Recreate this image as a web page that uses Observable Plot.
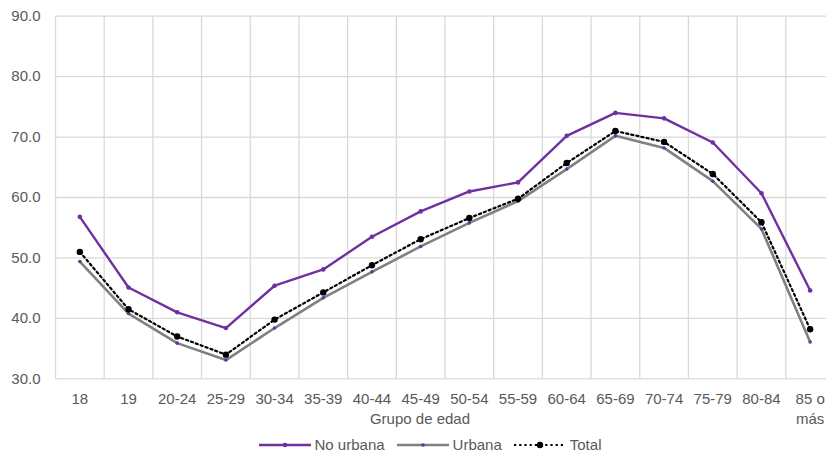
<!DOCTYPE html>
<html>
<head>
<meta charset="utf-8">
<script src="https://cdn.jsdelivr.net/npm/d3@7"></script>
<script src="https://cdn.jsdelivr.net/npm/@observablehq/plot@0.6"></script>
<style>
  html, body { margin: 0; padding: 0; background: #fff; overflow: hidden; }
  #wrap { position: relative; width: 826px; height: 454px; font-family: "Liberation Sans", Arial, sans-serif; }
  #xtitle { position: absolute; left: 0; width: 840px; top: 410px; text-align: center; font-size: 15px; color: #595959; }
  #legend { position: absolute; left: 0; width: 860px; top: 436px; display: flex; justify-content: center; align-items: center; font-size: 15px; color: #595959; }
  #legend .item { display: flex; align-items: center; margin: 0 6px; }
  #legend svg { margin-right: 4px; }
</style>
</head>
<body>
<div id="wrap">
  <div id="chart"></div>
  <div id="xtitle">Grupo de edad</div>
  <div id="legend"></div>
</div>
<script>
const categories = ["18","19","20-24","25-29","30-34","35-39","40-44","45-49","50-54","55-59","60-64","65-69","70-74","75-79","80-84","85 o\nmás"];
const noUrbana = [56.8,45.1,41.0,38.4,45.4,48.1,53.5,57.7,61.0,62.5,70.2,74.0,73.1,69.1,60.7,44.6];
const urbana   = [49.4,40.8,35.9,33.1,38.4,43.4,47.7,51.9,55.8,59.4,64.7,70.2,68.2,62.7,54.8,36.1];
const total    = [51.0,41.5,37.0,34.0,39.8,44.3,48.8,53.1,56.6,59.8,65.7,71.0,69.2,63.9,55.9,38.2];
const yTicks = [30,40,50,60,70,80,90];

const seriesNames = ["No urbana","Urbana","Total"];
const colors = {"No urbana": "#7030a0", "Urbana": "#808080", "Total": "#000000"};

const rows = (name, vals) => vals.map((v, i) => ({serie: name, pos: i + 0.5, cat: categories[i], value: v}));
const dNo = rows("No urbana", noUrbana);
const dUr = rows("Urbana", urbana);
const dTo = rows("Total", total);

const bounds = d3.range(categories.length + 1);
const centers = categories.map((c, i) => i + 0.5);

const chart = Plot.plot({
  width: 826,
  height: 454,
  marginLeft: 55,
  marginRight: -8,
  marginTop: 15.7,
  marginBottom: 75.7,
  style: {fontFamily: "'Liberation Sans', Arial, sans-serif", fontSize: "15px", color: "#595959", background: "#fff"},
  x: {type: "linear", domain: [0, categories.length], axis: null, label: null},
  y: {domain: [30, 90], axis: null, label: null},
  marks: [
    Plot.ruleX(bounds, {x: d => d, stroke: "#d9d9d9", strokeWidth: 1.3}),
    Plot.ruleY(yTicks, {y: d => d, stroke: "#d9d9d9", strokeWidth: 1.3}),
    Plot.axisY(yTicks, {tickSize: 0, tickPadding: 15, tickFormat: d => d.toFixed(1), fontSize: 15, fill: "#595959", label: null}),
    Plot.axisX(centers, {tickSize: 0, tickPadding: 11, tickFormat: d => categories[Math.floor(d)], fontSize: 15, fill: "#595959", lineHeight: 1.33, label: null}),
    Plot.line(dUr, {x: "pos", y: "value", stroke: colors["Urbana"], strokeWidth: 2.6}),
    Plot.dot(dUr, {x: "pos", y: "value", r: 1.8, fill: "#7030a0", stroke: "none"}),
    Plot.line(dTo, {x: "pos", y: "value", stroke: "#000", strokeWidth: 2.2, strokeDasharray: "2.2,3"}),
    Plot.dot(dTo, {x: "pos", y: "value", r: 3.2, fill: "#000", stroke: "none"}),
    Plot.line(dNo, {x: "pos", y: "value", stroke: colors["No urbana"], strokeWidth: 2.4}),
    Plot.dot(dNo, {x: "pos", y: "value", r: 2.3, fill: "#7030a0", stroke: "none"})
  ]
});
document.getElementById("chart").appendChild(chart);

// legend
const legend = d3.select("#legend");
seriesNames.forEach(name => {
  const item = legend.append("div").attr("class", "item");
  const sw = item.append("svg").attr("width", 52).attr("height", 12);
  if (name === "Total") {
    sw.append("line").attr("x1", 0).attr("x2", 52).attr("y1", 6).attr("y2", 6)
      .attr("stroke", "#000").attr("stroke-width", 2.2).attr("stroke-dasharray", "2.2,3");
    sw.append("circle").attr("cx", 26).attr("cy", 6).attr("r", 3.2).attr("fill", "#000");
  } else {
    sw.append("line").attr("x1", 0).attr("x2", 52).attr("y1", 6).attr("y2", 6)
      .attr("stroke", colors[name]).attr("stroke-width", name === "Urbana" ? 2.6 : 2.4);
    sw.append("circle").attr("cx", 26).attr("cy", 6).attr("r", name === "Urbana" ? 1.8 : 2.3).attr("fill", "#7030a0");
  }
  item.append("span").text(name);
});
</script>
</body>
</html>
